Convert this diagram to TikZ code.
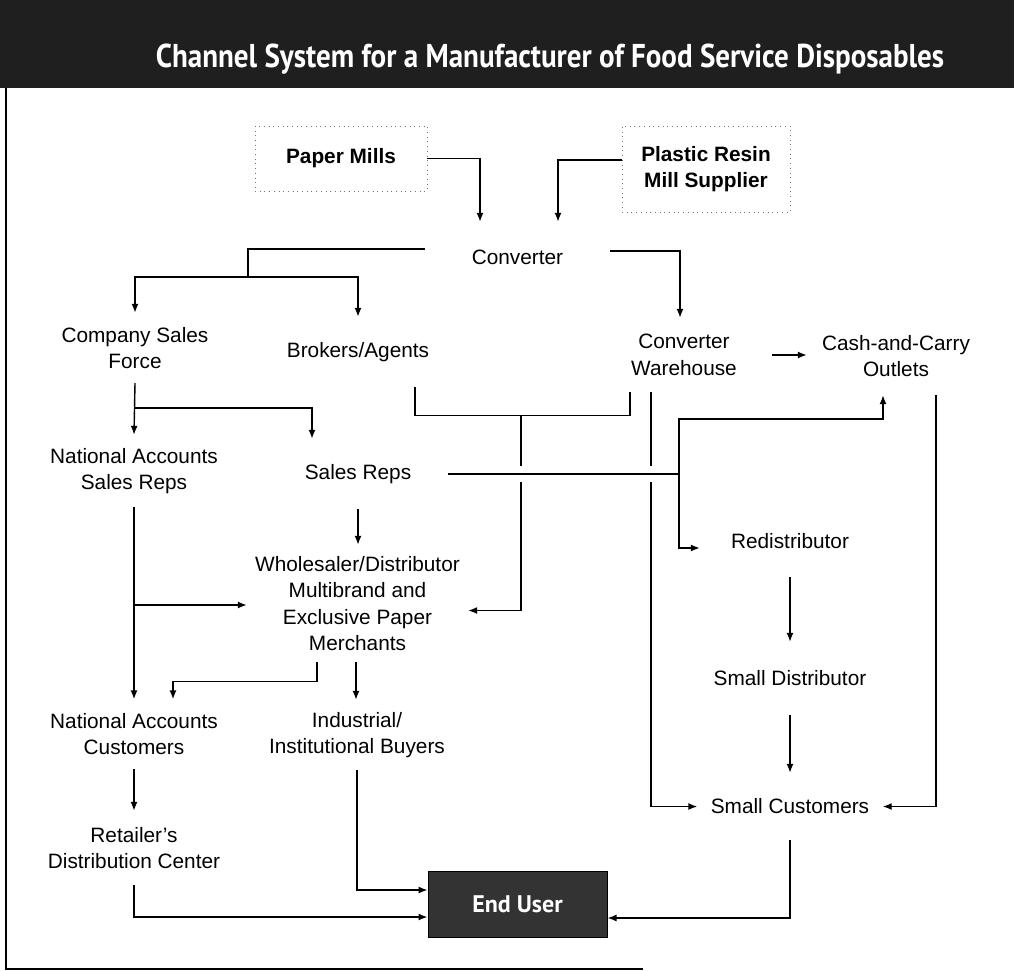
\documentclass[tikz,border=0pt]{standalone}
\usepackage{fontspec}
\setmainfont{Liberation Sans}
\newfontfamily\headfont[FakeStretch=0.88]{PT Sans}
\newfontfamily\boxfont{PT Sans}
\usetikzlibrary{arrows.meta}
\begin{document}
\begin{tikzpicture}[x=1pt,y=-1pt,
  lbl/.style={align=center, inner sep=0pt, font=\fontsize{20.8}{26.5}\selectfont},
  src/.style={lbl, font=\bfseries\fontsize{20.8}{26.5}\selectfont, draw=black!55, loosely dotted, line width=0.7pt},
  conn/.style={line width=1.4pt},
  arr/.style={conn, -{Latex[length=9pt,width=7pt]}},
  bridge/.style={conn, preaction={draw=white, line width=16pt}},
  head/.style={text=white, font=\headfont\bfseries\fontsize{33}{33}\selectfont}
]
\useasboundingbox (0,0) rectangle (1014,971);

% heading band
\fill[black!88] (0,0) rectangle (1014,88);
\node[head, anchor=base] (title) at (550,68) {Channel System for a Manufacturer of Food Service Disposables};

% frame on the left and bottom
\draw[line width=1.5pt] (6,88) -- (6,969) -- (643,969);

% suppliers
\node[src, minimum width=172pt, minimum height=65pt] (paper) at (341,158.5) {Paper Mills};
\node[src, minimum width=168pt, minimum height=86pt] (plastic) at (706,169) {Plastic Resin\\Mill Supplier};

% channel members
\node[lbl, minimum width=185pt, minimum height=70pt] (conv) at (517.5,257) {Converter};
\node[lbl, minimum width=170pt, minimum height=70pt] (csf) at (135,348) {Company Sales\\Force};
\node[lbl, minimum width=140pt, minimum height=70pt] (brok) at (358,352) {Brokers/Agents};
\node[lbl, minimum width=176pt, minimum height=74pt] (cw) at (684,355) {Converter\\Warehouse};
\node[lbl, minimum width=178pt, minimum height=78pt] (cc) at (896,356) {Cash-and-Carry\\Outlets};
\node[lbl, minimum width=180pt, minimum height=72pt] (nasr) at (134,471) {National Accounts\\Sales Reps};
\node[lbl, minimum width=180pt, minimum height=70pt] (sr) at (358,474) {Sales Reps};
\node[lbl, minimum width=180pt, minimum height=72pt] (redis) at (790,541) {Redistributor};
\node[lbl, minimum width=221pt, minimum height=117pt] (ws) at (357.5,603.5) {Wholesaler/Distributor\\Multibrand and\\Exclusive Paper\\Merchants};
\node[lbl, minimum width=180pt, minimum height=73pt] (sd) at (790,678.5) {Small Distributor};
\node[lbl, minimum width=180pt, minimum height=69pt] (nac) at (134,734) {National Accounts\\Customers};
\node[lbl, minimum width=200pt, minimum height=70pt] (ind) at (357,735) {Industrial/\\Institutional Buyers};
\node[lbl, minimum width=185pt, minimum height=67pt] (sc) at (790,806.5) {Small Customers};
\node[lbl, minimum width=200pt, minimum height=74pt] (rdc) at (134,848) {Retailer's\\Distribution Center};
\node[draw=black, line width=1pt, fill=black!80, minimum width=179pt, minimum height=66pt,
      text=white, font=\boxfont\bfseries\fontsize{24}{24}\selectfont] (eu) at (517.5,904) {End User};

% junctions
\coordinate (tj) at (248,277);
\coordinate (bj) at (135,408);
\coordinate (mj) at (521,415);
\coordinate (sj) at (679,474);
\coordinate (cu) at (679,419);
\coordinate (lj) at (134,605);

% suppliers to converter
\draw[arr] (paper.east) -| ([xshift=-37.5pt]conv.north);
\draw[arr] ([yshift=9pt]plastic.west) -| ([xshift=40.5pt]conv.north);

% converter outputs
\draw[conn] ([yshift=8pt]conv.west) -| (tj);
\draw[arr] (tj) -| (csf.north);
\draw[arr] (tj) -| (brok.north);
\draw[arr] ([yshift=6pt]conv.east) -| ([xshift=-4pt]cw.north);
\draw[arr] (cw.east) -- (cw.east -| cc.west);

% company sales force
\draw[arr] (csf.south) -- (nasr.north);
\draw[arr] (bj) -| ([xshift=-46pt]sr.north);

% brokers and warehouse to wholesaler
\draw[conn] ([xshift=57pt]brok.south) -- ++(0,28) -| ([xshift=-54pt]cw.south);
\draw[arr] (mj) |- ([yshift=-7pt]ws.east);
\draw[arr] ([xshift=-33pt]cw.south) |- (sc.west);
\draw[arr] ([xshift=40pt]cc.south) |- (sc.east);

% sales reps, crossing over the two verticals
\draw[bridge] (sr.east) -- (sj);
\draw[arr] (sj) -- (cu) -| ([xshift=-13pt]cc.south);
\draw[arr] (sj) |- ([yshift=-7pt]redis.west);
\draw[arr] (sr.south) -- (sr.south |- ws.north);

% national accounts
\draw[arr] (nasr.south) -- (nac.north);
\draw[arr] (lj) -- (lj -| ws.west);

% wholesaler outputs
\draw[arr] ([xshift=-40.5pt]ws.south) -- ++(0,19) -| ([xshift=39pt]nac.north);
\draw[arr] ([xshift=-1.5pt]ws.south) -- ([xshift=-1.5pt]ws.south |- ind.north);

% redistribution chain
\draw[arr] (redis.south) -- (sd.north);
\draw[arr] (sd.south) -- (sc.north);

% to the end user
\draw[arr] (nac.south) -- (rdc.north);
\draw[arr] (ind.south) |- ([yshift=14pt]eu.west);
\draw[arr] (rdc.south) |- ([yshift=-13pt]eu.west);
\draw[arr] (sc.south) |- ([yshift=-14pt]eu.east);
\end{tikzpicture}
\end{document}
